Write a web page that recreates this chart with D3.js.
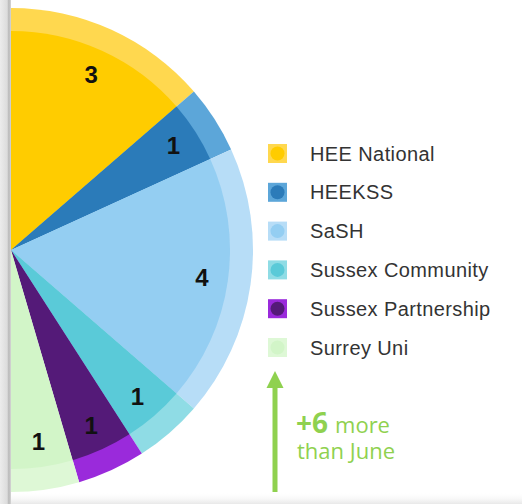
<!DOCTYPE html>
<html>
<head>
<meta charset="utf-8">
<script src="https://cdn.jsdelivr.net/npm/d3@7"></script>
<style>
  html, body { margin: 0; padding: 0; background: #ffffff; }
  svg { display: block; }
</style>
</head>
<body>
<div id="chart"></div>
<script>
//
// Data
//
var categories = ["HEE National", "HEEKSS", "SaSH", "Sussex Community", "Sussex Partnership", "Surrey Uni"];
var counts = [3, 1, 4, 1, 1, 1];
var innerColors = ["#ffcc00", "#2b7bb9", "#94cef2", "#5acad8", "#541a78", "#d2f5c8"];
var ringColors = ["#ffd84f", "#5ca6d9", "#b7ddf7", "#8fdce5", "#9a2adb", "#def8d6"];
var changeValue = "+6";
var changeText = ["more", "than June"];

var width = 522, height = 504;
var cx = 11, cy = 250;
var rInner = 219, rOuter = 242;
var green = "#8fd14f";

var svg = d3.select("#chart").append("svg")
	.attr("width", width)
	.attr("height", height);

//
// half pie, clockwise from 12 o'clock to 6 o'clock
//
var pie = d3.pie().sort(null).startAngle(0).endAngle(Math.PI)
	.value(function(d) { return d.value; });

var data = pie(categories.map(function(c, i) { return {name: c, value: counts[i], i: i}; }));

var arcRing = d3.arc().innerRadius(0).outerRadius(rOuter);
var arcIn = d3.arc().innerRadius(0).outerRadius(rInner);
var arcLabel = d3.arc().innerRadius(193).outerRadius(193);

var g = svg.append("g")
	.attr("transform", "translate(" + cx + "," + cy + ")");

g.selectAll(".ring")
	.data(data)
	.enter().append("path")
	.attr("class", "ring")
	.attr("d", arcRing)
	.style("fill", function(d) { return ringColors[d.data.i]; });

g.selectAll(".slice")
	.data(data)
	.enter().append("path")
	.attr("class", "slice")
	.attr("d", arcIn)
	.style("fill", function(d) { return innerColors[d.data.i]; });

g.selectAll(".lbl")
	.data(data)
	.enter().append("text")
	.attr("class", "lbl")
	.attr("transform", function(d) { return "translate(" + arcLabel.centroid(d) + ")"; })
	.attr("text-anchor", "middle")
	.attr("dy", "0.36em")
	.style("font-family", "'Liberation Sans', Arial, sans-serif")
	.style("font-weight", "bold")
	.style("font-size", "24px")
	.style("fill", "#111")
	.text(function(d) { return d.data.value; });

//
// grey frame edge on the left and faint shade at the bottom
//
var defs = svg.append("defs");
var gl = defs.append("linearGradient").attr("id", "edgeL").attr("x1", 0).attr("x2", 1).attr("y1", 0).attr("y2", 0);
gl.append("stop").attr("offset", "0%").attr("stop-color", "#ececec");
gl.append("stop").attr("offset", "65%").attr("stop-color", "#dcdcdc");
gl.append("stop").attr("offset", "80%").attr("stop-color", "#b8b8b8");
gl.append("stop").attr("offset", "100%").attr("stop-color", "#d6d6d6");
var gb = defs.append("linearGradient").attr("id", "edgeB").attr("x1", 0).attr("x2", 0).attr("y1", 0).attr("y2", 1);
gb.append("stop").attr("offset", "0%").attr("stop-color", "#ffffff").attr("stop-opacity", 0);
gb.append("stop").attr("offset", "100%").attr("stop-color", "#e8e8e8");

svg.append("rect").attr("x", 0).attr("y", 492).attr("width", width).attr("height", 12)
	.style("fill", "url(#edgeB)");
svg.append("rect").attr("x", 0).attr("y", 0).attr("width", 11).attr("height", height)
	.style("fill", "url(#edgeL)");

//
// legend
//
var legend = svg.append("g").attr("transform", "translate(268,144)");
var row = legend.selectAll(".row")
	.data(categories)
	.enter().append("g")
	.attr("class", "row")
	.attr("transform", function(d, i) { return "translate(0," + (i * 38.8) + ")"; });

row.append("rect")
	.attr("width", 19).attr("height", 19)
	.style("fill", function(d, i) { return ringColors[i]; });
row.append("circle")
	.attr("cx", 9.5).attr("cy", 9.5).attr("r", 7)
	.style("fill", function(d, i) { return innerColors[i]; });
row.append("text")
	.attr("x", 42).attr("y", 9.5).attr("dy", "0.35em")
	.style("font-family", "'Liberation Sans', Arial, sans-serif")
	.style("font-size", "20px")
	.style("letter-spacing", "0.4px")
	.style("fill", "#333")
	.text(function(d) { return d; });

//
// green arrow and note
//
svg.append("rect").attr("x", 272.5).attr("y", 384).attr("width", 5).attr("height", 108)
	.style("fill", green);
svg.append("path")
	.attr("d", "M275,371 L283.5,388 L266.5,388 Z")
	.style("fill", green);

var note = svg.append("text")
	.attr("x", 296).attr("y", 433)
	.style("font-family", "'Open Sans', sans-serif")
	.style("fill", green);
note.append("tspan").style("font-weight", "bold").style("font-size", "28px").text(changeValue);
note.append("tspan").attr("dx", 7).style("font-size", "22px").text(changeText[0]);

svg.append("text")
	.attr("x", 297).attr("y", 459)
	.style("font-family", "'Open Sans', sans-serif")
	.style("font-size", "22px")
	.style("fill", green)
	.text(changeText[1]);
</script>
</body>
</html>
